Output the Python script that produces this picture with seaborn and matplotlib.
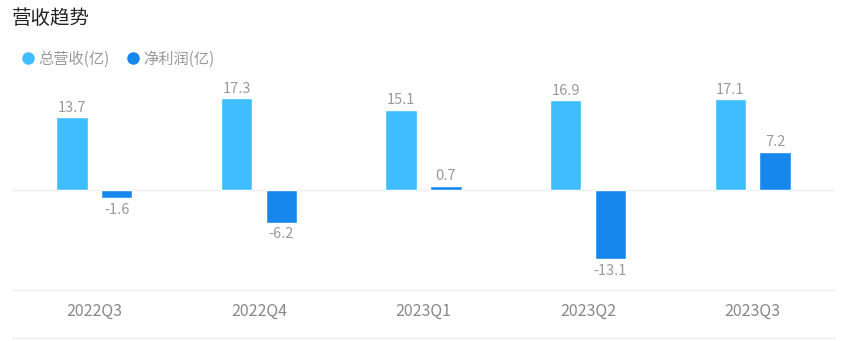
import pandas as pd
import matplotlib
matplotlib.use("Agg")
import matplotlib.pyplot as plt
import seaborn as sns
from matplotlib.lines import Line2D

# data
quarters = ['2022Q3', '2022Q4', '2023Q1', '2023Q2', '2023Q3']
revenue = [13.7, 17.3, 15.1, 16.9, 17.1]
net_profit = [-1.6, -6.2, 0.7, -13.1, 7.2]
series_names = ['总营收(亿)', '净利润(亿)']
colors = ['#3ebefe', '#1787ee']

sns.set_style('white')
plt.rcParams['font.family'] = ['Noto Sans CJK SC', 'DejaVu Sans']

data = pd.DataFrame({
    'quarter': quarters * 2,
    'value': revenue + net_profit,
    'series': [series_names[0]] * len(quarters) + [series_names[1]] * len(quarters),
})

fig = plt.figure(figsize=(8.47, 3.41), dpi=100)
ax = fig.add_axes([12 / 847, 51 / 341, 823 / 847, 210 / 341])

sns.barplot(data=data, x='quarter', y='value', hue='series', palette=colors,
            width=0.545, gap=0.3, ax=ax, legend=False, saturation=1)

ax.set_ylim(-18.87, 20.75)
ax.set_xlim(-0.5, len(quarters) - 0.5)
ax.axhline(0, color='#eeeeee', lw=1, zorder=0)

# value labels
for container in ax.containers:
    for bar in container:
        h = bar.get_height()
        x = bar.get_x() + bar.get_width() / 2
        if h >= 0:
            ax.annotate(f'{h:.1f}', (x, h), xytext=(0, 2), textcoords='offset points',
                        ha='center', va='bottom', fontsize=10.5, color='#9a9a9a')
        else:
            ax.annotate(f'{h:.1f}', (x, h), xytext=(0, -3), textcoords='offset points',
                        ha='center', va='top', fontsize=10.5, color='#9a9a9a')

ax.set_xlabel('')
ax.set_ylabel('')
ax.set_yticks([])
ax.tick_params(axis='x', length=0, labelsize=11.5, labelcolor='#888888', pad=9)
for side in ['top', 'left', 'right']:
    ax.spines[side].set_visible(False)
ax.spines['bottom'].set_color('#eeeeee')

# bottom separator line
fig.add_artist(Line2D([12 / 847, 835 / 847], [3 / 341, 3 / 341], color='#eeeeee', lw=1))

# title and legend
fig.text(12 / 847, 1 - 18 / 341, '营收趋势', fontsize=14, color='#222222', va='center')
handles = [Line2D([], [], marker='o', ls='', color=c, markersize=8) for c in colors]
fig.legend(handles, series_names, loc='center left', bbox_to_anchor=(5 / 847, 1 - 59 / 341),
           ncol=2, frameon=False, fontsize=11, labelcolor='#999999',
           handletextpad=0.1, columnspacing=0.9, handlelength=1.2)

fig.savefig('out.png', dpi=100)
